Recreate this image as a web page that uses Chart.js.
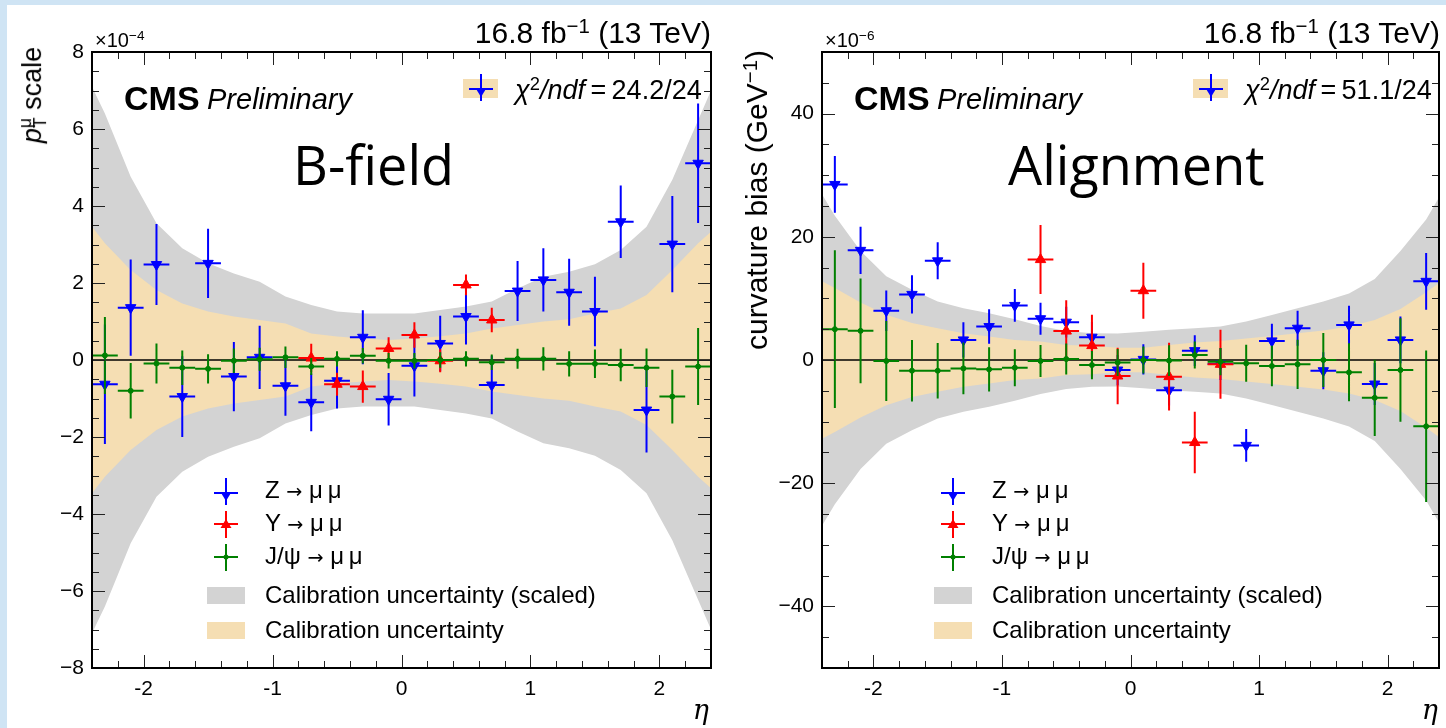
<!DOCTYPE html>
<html>
<head>
<meta charset="utf-8">
<script src="https://cdn.jsdelivr.net/npm/chart.js@4.4.1/dist/chart.umd.min.js"></script>
<style>
  html, body { margin: 0; padding: 0; background: #fff; }
  #page { position: relative; width: 1446px; height: 728px; overflow: hidden; background: #fff;
          font-family: "Liberation Sans", Arial, sans-serif; color: #000; }
  .edgeTop { position: absolute; left: 0; top: 0; width: 1446px; height: 5px; background: #cfe4f4; }
  .edgeLeft { position: absolute; left: 0; top: 0; width: 7px; height: 728px; background: #cfe4f4; }
  canvas { position: absolute; top: 0; }
  .t { position: absolute; white-space: nowrap; line-height: 1; }
  .sup { font-size: 0.68em; vertical-align: 0.5em; line-height: 0; }
  .cms { font-weight: bold; font-size: 34px; }
  .prelim { font-style: italic; font-size: 29px; }
  .big { font-family: "Open Sans", "Noto Sans", sans-serif; font-size: 54px; }
  .lumi { font-size: 30px; }
  .ytitle { transform: translate(-50%, -50%) rotate(-90deg); }
  .eta { font-style: italic; font-size: 27px; font-family: "DejaVu Serif", serif; }
  .leg { font-size: 24px; }
  .arrow { font-family: "DejaVu Sans", sans-serif; font-size: 0.8em; }
  .chi { font-size: 27px; }
  .stack { display: inline-block; vertical-align: -0.3em; line-height: 0.85; font-size: 0.65em; text-align: left; }
</style>
</head>
<body>
<div id="page">
  <div class="edgeTop"></div>
  <div class="edgeLeft"></div>
  <canvas id="bfield" width="723" height="728" style="left:0"></canvas>
  <canvas id="align" width="723" height="728" style="left:723px"></canvas>
</div>
<script>
// bin centres in eta (24 bins of 0.2 between -2.4 and 2.4)
const etaBins = [-2.3, -2.1, -1.9, -1.7, -1.5, -1.3, -1.1, -0.9, -0.7, -0.5, -0.3, -0.1,
                 0.1, 0.3, 0.5, 0.7, 0.9, 1.1, 1.3, 1.5, 1.7, 1.9, 2.1, 2.3];
const etaUpsilon = [-0.7, -0.5, -0.3, -0.1, 0.1, 0.3, 0.5, 0.7];
const binHalfWidth = 0.1;
// band nodes: axis edges plus bin centres
const bandEta = [-2.4, -2.3, -2.1, -1.9, -1.7, -1.5, -1.3, -1.1, -0.9, -0.7, -0.5, -0.3, -0.1,
                 0.1, 0.3, 0.5, 0.7, 0.9, 1.1, 1.3, 1.5, 1.7, 1.9, 2.1, 2.3, 2.4];

// B-field panel, pT scale (x 1e-4)
const zBfield = [-0.63, 1.36, 2.48, -0.95, 2.51, -0.43, 0.07, -0.67, -1.10, -0.54, 0.59, -1.02,
                 -0.15, 0.43, 1.13, -0.65, 1.79, 2.08, 1.76, 1.26, 3.59, -1.30, 3.01, 5.11];
const zBfieldErr = [1.55, 1.25, 1.05, 1.05, 0.90, 0.90, 0.82, 0.78, 0.75, 0.72, 0.70, 0.68,
                    0.80, 0.72, 0.73, 0.76, 0.78, 0.82, 0.87, 0.90, 0.94, 1.10, 1.25, 1.55];
const upsBfield = [0.05, -0.63, -0.69, 0.30, 0.65, -0.02, 1.95, 1.04];
const upsBfieldErr = [0.37, 0.30, 0.42, 0.29, 0.33, 0.30, 0.27, 0.32];
const jpsiBfield = [0.12, -0.80, -0.09, -0.20, -0.23, -0.02, 0.02, 0.07, -0.17, 0.03, 0.11, -0.02,
                    -0.02, 0.00, 0.03, -0.06, 0.03, 0.03, -0.10, -0.10, -0.13, -0.20, -0.95, -0.17];
const jpsiBfieldErr = [1.00, 0.72, 0.52, 0.45, 0.38, 0.32, 0.30, 0.28, 0.22, 0.20, 0.20, 0.20,
                       0.20, 0.20, 0.20, 0.20, 0.26, 0.30, 0.33, 0.37, 0.42, 0.50, 0.70, 1.00];
const scaledBandBfield = [7.1, 6.4, 4.76, 3.55, 2.9, 2.51, 2.25, 2.03, 1.65, 1.43, 1.26, 1.21, 1.21,
                          1.21, 1.3, 1.39, 1.52, 1.86, 2.16, 2.29, 2.49, 2.86, 3.46, 4.68, 6.23, 7.0];
const calibBandBfield = [3.46, 3.03, 2.34, 1.82, 1.47, 1.26, 1.13, 1.04, 0.95, 0.69, 0.61, 0.56, 0.52,
                         0.56, 0.62, 0.69, 0.82, 0.91, 1.0, 1.06, 1.21, 1.34, 1.69, 2.34, 3.03, 3.33];

// Alignment panel, curvature bias (x 1e-6 GeV^-1)
const zAlign = [28.5, 17.8, 8.0, 10.65, 16.1, 3.26, 5.43, 8.86, 6.7, 6.14, 3.7, -1.63,
                0.1, -4.9, 1.52, -0.65, -13.86, 3.1, 5.16, -1.74, 5.7, -3.9, 3.26, 12.77];
const zAlignErr = [4.6, 3.85, 3.3, 3.1, 3.0, 2.85, 2.8, 2.65, 2.6, 2.5, 2.45, 2.45,
                   2.45, 2.5, 2.5, 2.6, 2.65, 2.8, 2.85, 3.0, 3.1, 3.4, 3.8, 4.6];
const upsAlign = [16.3, 4.7, 2.34, -2.6, 11.25, -2.7, -13.4, -0.7];
const upsAlignErr = [5.6, 5.0, 5.0, 4.6, 4.55, 5.5, 5.0, 5.6];
const jpsiAlign = [5.0, 4.73, -0.16, -1.74, -1.74, -1.36, -1.52, -1.25, -0.16, 0.16, -0.82, -0.4,
                   0.0, -0.1, 0.8, -0.27, -0.54, -0.98, -0.7, 0.0, -2.0, -6.14, -1.63, -10.76];
const jpsiAlignErr = [12.8, 8.5, 6.5, 5.0, 4.5, 4.2, 3.6, 3.0, 2.6, 2.5, 2.3, 2.2,
                      2.2, 2.5, 2.2, 2.2, 3.0, 3.3, 4.0, 4.4, 4.7, 6.2, 8.4, 12.3];
const scaledBandAlign = [26.9, 23.4, 17.7, 13.6, 11.4, 9.5, 8.4, 7.6, 6.6, 5.5, 4.7, 4.35, 4.3,
                         4.6, 4.9, 5.16, 5.43, 6.25, 7.3, 8.4, 9.5, 10.8, 13.15, 17.7, 22.8, 26.4];
const calibBandAlign = [12.8, 11.7, 9.35, 7.34, 6.0, 5.16, 4.35, 3.8, 3.26, 3.0, 2.45, 2.3, 2.0,
                        2.0, 2.45, 2.83, 3.1, 3.5, 3.9, 4.35, 4.8, 5.43, 6.5, 8.26, 11.0, 12.5];

// axis ticks
const etaRange = [-2.4, 2.4];
const etaMajorTicks = [-2, -1, 0, 1, 2];
const bfieldRange = [-8, 8];
const bfieldMajorTicks = [-8, -6, -4, -2, 0, 2, 4, 6, 8];
const alignRange = [-50, 50];
const alignMajorTicks = [-40, -20, 0, 20, 40];

const chi2Labels = ['24.2/24', '51.1/24'];
const legendLabels = ['Z <span class="arrow">\u2192</span> \u03bc\u2009\u03bc',
                      '\u03a5 <span class="arrow">\u2192</span> \u03bc\u2009\u03bc',
                      'J/\u03c8 <span class="arrow">\u2192</span> \u03bc\u2009\u03bc',
                      'Calibration uncertainty (scaled)', 'Calibration uncertainty'];

const BLUE = '#0000ff', RED = '#ff0000', GREEN = '#008000';
const GRAY = '#d3d3d3', WHEAT = '#f5deb3';

function errorBarPoints(xs, ys, errs) {
  const pts = [];
  xs.forEach((x, i) => {
    pts.push({ x: x - binHalfWidth, y: ys[i] }, { x: x + binHalfWidth, y: ys[i] }, { x: x + binHalfWidth, y: null });
    pts.push({ x: x, y: ys[i] - errs[i] }, { x: x, y: ys[i] + errs[i] }, { x: x, y: null });
  });
  return pts;
}
const toPoints = (xs, ys) => xs.map((x, i) => ({ x: x, y: ys[i] }));
const minusLabel = v => (v < 0 ? '\u2212' + Math.abs(v) : String(v));

// frame with inward ticks on all four sides
const frameTicks = {
  id: 'frameTicks',
  afterDraw(chart, args, opts) {
    const { ctx, chartArea: a, scales: { x, y } } = chart;
    ctx.save();
    ctx.strokeStyle = '#222';
    ctx.lineWidth = 1;
    ctx.beginPath();
    for (let v = opts.xRange[0]; v <= opts.xRange[1] + 1e-9; v += opts.xMinor) {
      const px = Math.round(x.getPixelForValue(v)) + 0.5;
      const major = opts.xMajor.some(m => Math.abs(m - v) < 1e-6);
      const len = major ? 13 : 7;
      ctx.moveTo(px, a.bottom); ctx.lineTo(px, a.bottom - len);
      ctx.moveTo(px, a.top); ctx.lineTo(px, a.top + len);
    }
    for (let v = opts.yRange[0]; v <= opts.yRange[1] + 1e-9; v += opts.yMinor) {
      const py = Math.round(y.getPixelForValue(v)) + 0.5;
      const major = Math.abs(v / opts.yMajorStep - Math.round(v / opts.yMajorStep)) < 1e-6;
      const len = major ? 13 : 7;
      ctx.moveTo(a.left, py); ctx.lineTo(a.left + len, py);
      ctx.moveTo(a.right, py); ctx.lineTo(a.right - len, py);
    }
    ctx.stroke();
    ctx.strokeStyle = '#000';
    ctx.lineWidth = 2;
    ctx.strokeRect(a.left, a.top, a.right - a.left, a.bottom - a.top);
    ctx.restore();
  }
};

function makePanel(id, p) {
  const line = (data, color, width, order, extra) => Object.assign({
    data: data, borderColor: color, borderWidth: width, pointRadius: 0, fill: false,
    spanGaps: false, tension: 0, order: order
  }, extra || {});
  const markers = (data, color, style, radius, rotation, order) => ({
    data: data, showLine: false, pointStyle: style, pointRadius: radius, pointRotation: rotation,
    pointBackgroundColor: color, pointBorderColor: color, pointBorderWidth: 1, order: order
  });

  new Chart(document.getElementById(id), {
    type: 'line',
    data: {
      datasets: [
        line(bandEta.map((x, i) => ({ x: x, y: p.scaled[i] })), GRAY, 0, 10, { fill: '+1', backgroundColor: GRAY }),
        line(bandEta.map((x, i) => ({ x: x, y: -p.scaled[i] })), GRAY, 0, 9),
        line(bandEta.map((x, i) => ({ x: x, y: p.calib[i] })), WHEAT, 0, 8, { fill: '+1', backgroundColor: WHEAT }),
        line(bandEta.map((x, i) => ({ x: x, y: -p.calib[i] })), WHEAT, 0, 7),
        line(etaRange.map(x => ({ x: x, y: 0 })), '#000', 1.5, 6),
        line(errorBarPoints(etaBins, p.z, p.zErr), BLUE, 2, 5),
        markers(toPoints(etaBins, p.z), BLUE, 'triangle', 6, 180, 4),
        line(errorBarPoints(etaUpsilon, p.ups, p.upsErr), RED, 2, 3),
        markers(toPoints(etaUpsilon, p.ups), RED, 'triangle', 6, 0, 2),
        line(errorBarPoints(etaBins, p.jpsi, p.jpsiErr), GREEN, 2, 1),
        markers(toPoints(etaBins, p.jpsi), GREEN, 'circle', 2.5, 0, 0)
      ]
    },
    options: {
      responsive: false,
      devicePixelRatio: 1,
      animation: false,
      events: [],
      layout: { padding: { top: 52, right: p.padRight, left: 0, bottom: 0 } },
      plugins: {
        legend: { display: false },
        tooltip: { enabled: false },
        filler: { drawTime: 'beforeDatasetDraw' },
        frameTicks: {
          xRange: etaRange, xMajor: etaMajorTicks, xMinor: 0.2,
          yRange: p.yRange, yMajorStep: p.yMajorStep, yMinor: p.yMinor
        }
      },
      scales: {
        x: {
          type: 'linear', min: etaRange[0], max: etaRange[1],
          grid: { display: false, drawTicks: false }, border: { display: false },
          afterBuildTicks: s => { s.ticks = etaMajorTicks.map(v => ({ value: v })); },
          afterFit: s => { s.height = 60; },
          ticks: {
            autoSkip: false, maxRotation: 0, padding: 9, color: '#000',
            font: { family: 'Liberation Sans', size: 21 },
            callback: v => String(v)
          }
        },
        y: {
          type: 'linear', min: p.yRange[0], max: p.yRange[1],
          grid: { display: false, drawTicks: false }, border: { display: false },
          afterBuildTicks: s => { s.ticks = p.yMajor.map(v => ({ value: v })); },
          afterFit: s => { s.width = p.yWidth; },
          ticks: {
            autoSkip: false, padding: 8, color: '#000',
            font: { family: 'Liberation Sans', size: 21 },
            callback: minusLabel
          }
        }
      }
    },
    plugins: [frameTicks]
  });
}

makePanel('bfield', {
  z: zBfield, zErr: zBfieldErr, ups: upsBfield, upsErr: upsBfieldErr,
  jpsi: jpsiBfield, jpsiErr: jpsiBfieldErr, scaled: scaledBandBfield, calib: calibBandBfield,
  yRange: bfieldRange, yMajor: bfieldMajorTicks, yMajorStep: 2, yMinor: 0.5,
  yWidth: 92, padRight: 12
});
makePanel('align', {
  z: zAlign, zErr: zAlignErr, ups: upsAlign, upsErr: upsAlignErr,
  jpsi: jpsiAlign, jpsiErr: jpsiAlignErr, scaled: scaledBandAlign, calib: calibBandAlign,
  yRange: alignRange, yMajor: alignMajorTicks, yMajorStep: 20, yMinor: 5,
  yWidth: 99, padRight: 6
});

// text and legends (HTML overlay)
const page = document.getElementById('page');
function addText(html, cls, style) {
  const d = document.createElement('div');
  d.className = 't ' + (cls || '');
  d.innerHTML = html;
  Object.assign(d.style, style);
  page.appendChild(d);
  return d;
}
function markerSvg(color, shape) {
  let m = '';
  if (shape === 'down') m = `<polygon points="9.5,15 20.5,15 15,24" fill="${color}"/>`;
  if (shape === 'up') m = `<polygon points="9.5,18 20.5,18 15,9" fill="${color}"/>`;
  if (shape === 'dot') m = `<circle cx="15" cy="14" r="2.5" fill="${color}"/>`;
  const hy = shape === 'down' ? 16 : 14;
  return `<svg width="30" height="30" style="display:block">
    <line x1="3" y1="${hy}" x2="27" y2="${hy}" stroke="${color}" stroke-width="2"/>
    <line x1="15" y1="1" x2="15" y2="28" stroke="${color}" stroke-width="2"/>${m}</svg>`;
}

const panels = [
  { left: 92, right: 711, title: 'B-field', titleX: 293, chi: chi2Labels[0], legX: 211, expo: '\u22124' },
  { left: 822, right: 1440, title: 'Alignment', titleX: 1008, chi: chi2Labels[1], legX: 938, expo: '\u22126' }
];
panels.forEach(P => {
  addText(`\u00d710<span class="sup">${P.expo}</span>`, '', { left: (P.left + 3) + 'px', top: '30px', fontSize: '20px' });
  addText(`16.8 fb<span class="sup">\u22121</span> (13 TeV)`, 'lumi', { right: (1446 - P.right) + 'px', top: '18px' });
  addText('CMS', 'cms', { left: (P.left + 32) + 'px', top: '81px' });
  addText('Preliminary', 'prelim', { left: (P.left + 115) + 'px', top: '85px' });
  addText(P.title, 'big', { left: P.titleX + 'px', top: '137px' });
  // chi2 legend entry
  addText('', '', { left: (P.left + 371) + 'px', top: '79px', width: '35px', height: '19px', background: WHEAT });
  addText(markerSvg(BLUE, 'down'), '', { left: (P.left + 374) + 'px', top: '73px' });
  addText(`<i>\u03c7</i><span class="sup">2</span><i>/ndf</i>\u2009=\u2009${P.chi}`, 'chi', { left: (P.left + 423) + 'px', top: '77px' });
  addText('<i>\u03b7</i>', 'eta', { right: (1446 - P.right + 2) + 'px', top: '696px' });
  // lower legend
  const rows = [491, 524, 557, 596, 631];
  const shapes = [[BLUE, 'down'], [RED, 'up'], [GREEN, 'dot']];
  legendLabels.forEach((lab, i) => {
    if (i < 3) {
      addText(markerSvg(shapes[i][0], shapes[i][1]), '', { left: (P.legX) + 'px', top: (rows[i] - 14) + 'px' });
    } else {
      addText('', '', { left: (P.legX - 4) + 'px', top: (rows[i] - 9) + 'px', width: '38px', height: '17px',
                        background: i === 3 ? GRAY : WHEAT });
    }
    addText(lab, 'leg', { left: (P.legX + 54) + 'px', top: (rows[i] - 13) + 'px' });
  });
});
// y axis titles
addText('<i>p</i><span class="stack">\u03bc<br>T</span> scale', 'ytitle', { left: '33px', top: '95px', fontSize: '27px' });
addText('curvature bias (GeV<span class="sup">\u22121</span>)', 'ytitle', { left: '757px', top: '200px', fontSize: '30px' });
</script>
</body>
</html>
